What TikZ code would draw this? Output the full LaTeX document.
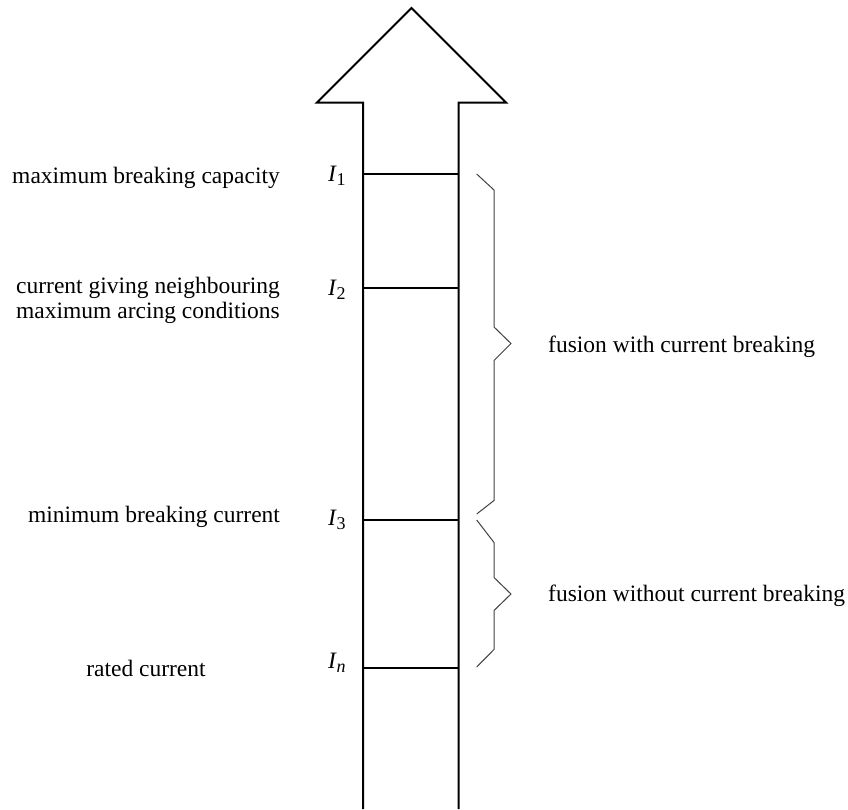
\documentclass[tikz,border=0pt]{standalone}
\usepackage{fontspec}
\setmainfont{Liberation Serif}
\newcommand{\curr}[1]{{\itshape I}\kern0.5pt\raisebox{-4pt}{\fontsize{18}{18}\selectfont #1}}
\begin{document}
\begin{tikzpicture}[x=1pt,y=-1pt,line join=miter,
  shaft/.style={line width=2pt},
  tickline/.style={line width=2pt},
  bracel/.style={line width=1pt,black!75},
  lbl/.style={font=\fontsize{23.5}{25}\selectfont,inner sep=0pt,anchor=base},
  ilbl/.style={font=\fontsize{23.5}{25}\selectfont,inner sep=0pt,anchor=base west}]
\useasboundingbox (0,0) rectangle (848,809);
% arrow
\draw[shaft] (363,809) -- (363,102.5) -- (317,102.5) -- (411.5,8) -- (506,102.5) -- (458.5,102.5) -- (458.5,809);
% ticks
\coordinate (t1l) at (363,174);   \coordinate (t1r) at (458.5,174);
\coordinate (t2l) at (363,288);   \coordinate (t2r) at (458.5,288);
\coordinate (t3l) at (363,520);   \coordinate (t3r) at (458.5,520);
\coordinate (tnl) at (363,668);   \coordinate (tnr) at (458.5,668);
\draw[tickline] (t1l) -- (t1r);
\draw[tickline] (t2l) -- (t2r);
\draw[tickline] (t3l) -- (t3r);
\draw[tickline] (tnl) -- (tnr);
% braces
\draw[bracel] (476.7,174) -- (494,190) -- (494,327) -- (511,343.5) -- (494,360.5) -- (494,500.5) -- (476.7,514);
\draw[bracel] (476.7,520) -- (494,542.5) -- (494,577.5) -- (511,594) -- (494,610.5) -- (494,649.5) -- (476.7,667);
% current labels
\node[ilbl] (i1) at (328,181) {\curr{1}};
\node[ilbl] (i2) at (328,295) {\curr{2}};
\node[ilbl] (i3) at (328,525) {\curr{3}};
\node[ilbl] (in) at (328,668) {\curr{\itshape n}};
% left texts
\node[lbl] (cap) at (146,183) {maximum breaking capacity};
\node[lbl] (arc1) at (148,293) {current giving neighbouring};
\node[lbl] (arc2) at (148,318) {maximum arcing conditions};
\node[lbl] (minb) at (154,522) {minimum breaking current};
\node[lbl] (rated) at (146,676) {rated current};
% right texts
\node[ilbl] (fw) at (548,352) {fusion with current breaking};
\node[ilbl] (fwo) at (548,601) {fusion without current breaking};
\end{tikzpicture}
\end{document}
